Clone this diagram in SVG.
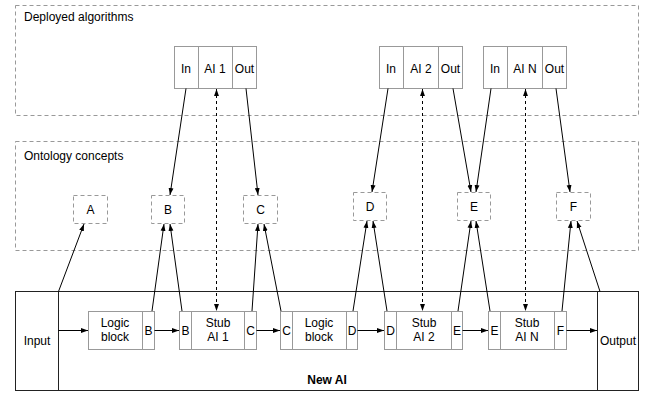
<svg xmlns="http://www.w3.org/2000/svg" width="646" height="393" viewBox="0 0 646 393">
<defs>
<marker id="ah" viewBox="0 0 10 10" refX="10" refY="5" markerWidth="7" markerHeight="7" orient="auto-start-reverse" markerUnits="userSpaceOnUse">
<path d="M0,1.5 L10,5 L0,8.5 z" fill="#000"/>
</marker>
<style>
text{font-family:"Liberation Sans",Arial,sans-serif;font-size:12px;fill:#000}
.c{text-anchor:middle}
.frame{fill:none;stroke:#999;stroke-width:1;stroke-dasharray:4 3}
.box{fill:#fff;stroke:#999;stroke-width:1}
.outer{fill:#fff;stroke:#222;stroke-width:1}
.con{fill:none;stroke:#000;stroke-width:1;marker-end:url(#ah)}
.dash{fill:none;stroke:#000;stroke-width:1;stroke-dasharray:3 3;marker-start:url(#ah);marker-end:url(#ah)}
</style>
</defs>
<rect width="646" height="393" fill="#fff"/>
<g id="deployed-frame">
<rect class="frame" x="15.5" y="5.5" width="623" height="110"/>
<text x="24" y="21">Deployed algorithms</text>
</g>
<g id="ontology-frame">
<rect class="frame" x="15.5" y="141.5" width="623" height="109"/>
<text x="24" y="160">Ontology concepts</text>
</g>
<g id="new-ai">
<rect class="outer" x="15.5" y="291.5" width="623" height="99"/>
<line x1="58.5" y1="291.5" x2="58.5" y2="390.5" stroke="#222"/>
<line x1="597.5" y1="291.5" x2="597.5" y2="390.5" stroke="#222"/>
<text x="37" y="345" class="c">Input</text>
<text x="618" y="345" class="c">Output</text>
<text x="327" y="384" class="c" font-weight="bold">New AI</text>
</g>
<g id="ai1">
<rect class="box" x="174.5" y="46.5" width="82" height="42"/>
<line x1="198.5" y1="46.5" x2="198.5" y2="88.5" stroke="#999"/>
<line x1="232.5" y1="46.5" x2="232.5" y2="88.5" stroke="#999"/>
<text x="186" y="73" class="c">In</text>
<text x="215" y="73" class="c">AI 1</text>
<text x="244.5" y="73" class="c">Out</text>
</g>
<g id="ai2">
<rect class="box" x="379.5" y="46.5" width="83" height="42"/>
<line x1="403.5" y1="46.5" x2="403.5" y2="88.5" stroke="#999"/>
<line x1="438.5" y1="46.5" x2="438.5" y2="88.5" stroke="#999"/>
<text x="391" y="73" class="c">In</text>
<text x="421" y="73" class="c">AI 2</text>
<text x="450.5" y="73" class="c">Out</text>
</g>
<g id="ain">
<rect class="box" x="483.5" y="46.5" width="83" height="42"/>
<line x1="507.5" y1="46.5" x2="507.5" y2="88.5" stroke="#999"/>
<line x1="542.5" y1="46.5" x2="542.5" y2="88.5" stroke="#999"/>
<text x="495" y="73" class="c">In</text>
<text x="525" y="73" class="c">AI N</text>
<text x="554.5" y="73" class="c">Out</text>
</g>
<g id="concept-a"><rect class="frame" x="73.5" y="195.5" width="34" height="28"/><text x="90.5" y="214" class="c">A</text></g>
<g id="concept-b"><rect class="frame" x="151.5" y="195.5" width="33" height="28"/><text x="168" y="214" class="c">B</text></g>
<g id="concept-c"><rect class="frame" x="243.5" y="195.5" width="34" height="28"/><text x="260.5" y="214" class="c">C</text></g>
<g id="concept-d"><rect class="frame" x="353.5" y="192.5" width="33" height="28"/><text x="370" y="211" class="c">D</text></g>
<g id="concept-e"><rect class="frame" x="457.5" y="192.5" width="33" height="28"/><text x="474" y="211" class="c">E</text></g>
<g id="concept-f"><rect class="frame" x="556.5" y="192.5" width="34" height="28"/><text x="573.5" y="211" class="c">F</text></g>
<g id="logic1">
<rect class="box" x="88.5" y="311.5" width="66" height="38"/>
<line x1="142.5" y1="311.5" x2="142.5" y2="349.5" stroke="#999"/>
<text x="115" y="327" class="c">Logic</text>
<text x="115" y="341" class="c">block</text>
<text x="148.5" y="335" class="c">B</text>
</g>
<g id="stub1">
<rect class="box" x="179.5" y="311.5" width="77" height="38"/>
<line x1="191.5" y1="311.5" x2="191.5" y2="349.5" stroke="#999"/>
<line x1="244.5" y1="311.5" x2="244.5" y2="349.5" stroke="#999"/>
<text x="185.5" y="335" class="c">B</text>
<text x="218" y="327" class="c">Stub</text>
<text x="218" y="341" class="c">AI 1</text>
<text x="250.5" y="335" class="c">C</text>
</g>
<g id="logic2">
<rect class="box" x="280.5" y="311.5" width="77" height="38"/>
<line x1="292.5" y1="311.5" x2="292.5" y2="349.5" stroke="#999"/>
<line x1="346.5" y1="311.5" x2="346.5" y2="349.5" stroke="#999"/>
<text x="286.5" y="335" class="c">C</text>
<text x="319" y="327" class="c">Logic</text>
<text x="319" y="341" class="c">block</text>
<text x="352" y="335" class="c">D</text>
</g>
<g id="stub2">
<rect class="box" x="384.5" y="311.5" width="78" height="38"/>
<line x1="396.5" y1="311.5" x2="396.5" y2="349.5" stroke="#999"/>
<line x1="451.5" y1="311.5" x2="451.5" y2="349.5" stroke="#999"/>
<text x="390.5" y="335" class="c">D</text>
<text x="424" y="327" class="c">Stub</text>
<text x="424" y="341" class="c">AI 2</text>
<text x="457" y="335" class="c">E</text>
</g>
<g id="stubn">
<rect class="box" x="488.5" y="311.5" width="78" height="38"/>
<line x1="500.5" y1="311.5" x2="500.5" y2="349.5" stroke="#999"/>
<line x1="554.5" y1="311.5" x2="554.5" y2="349.5" stroke="#999"/>
<text x="494.5" y="335" class="c">E</text>
<text x="527" y="327" class="c">Stub</text>
<text x="527" y="341" class="c">AI N</text>
<text x="560.5" y="335" class="c">F</text>
</g>
<g id="connectors">
<line class="con" x1="58.5" y1="330.5" x2="88" y2="330.5"/>
<line class="con" x1="154.5" y1="330.5" x2="179" y2="330.5"/>
<line class="con" x1="256.5" y1="330.5" x2="280" y2="330.5"/>
<line class="con" x1="357.5" y1="330.5" x2="384" y2="330.5"/>
<line class="con" x1="462.5" y1="330.5" x2="488" y2="330.5"/>
<line class="con" x1="566.5" y1="330.5" x2="597" y2="330.5"/>
<line class="con" x1="186" y1="88.5" x2="170" y2="195"/>
<line class="con" x1="246" y1="88.5" x2="258" y2="195"/>
<line class="con" x1="388" y1="88.5" x2="372" y2="192"/>
<line class="con" x1="453" y1="88.5" x2="471" y2="192"/>
<line class="con" x1="491" y1="88.5" x2="476" y2="192"/>
<line class="con" x1="556" y1="88.5" x2="570" y2="192"/>
<line class="con" x1="58.5" y1="291.5" x2="84" y2="224"/>
<line class="con" x1="152" y1="311" x2="164" y2="224"/>
<line class="con" x1="182" y1="311" x2="170" y2="224"/>
<line class="con" x1="252" y1="311" x2="258" y2="224"/>
<line class="con" x1="281" y1="311" x2="264" y2="224"/>
<line class="con" x1="353" y1="311" x2="367" y2="221"/>
<line class="con" x1="387" y1="311" x2="373" y2="221"/>
<line class="con" x1="458" y1="311" x2="471" y2="221"/>
<line class="con" x1="490" y1="311" x2="476" y2="221"/>
<line class="con" x1="562" y1="311" x2="571" y2="221"/>
<line class="con" x1="600" y1="291.5" x2="577" y2="221"/>
<line class="dash" x1="216.5" y1="89" x2="216.5" y2="311"/>
<line class="dash" x1="422.5" y1="89" x2="422.5" y2="311"/>
<line class="dash" x1="525.5" y1="89" x2="525.5" y2="311"/>
</g>
</svg>
